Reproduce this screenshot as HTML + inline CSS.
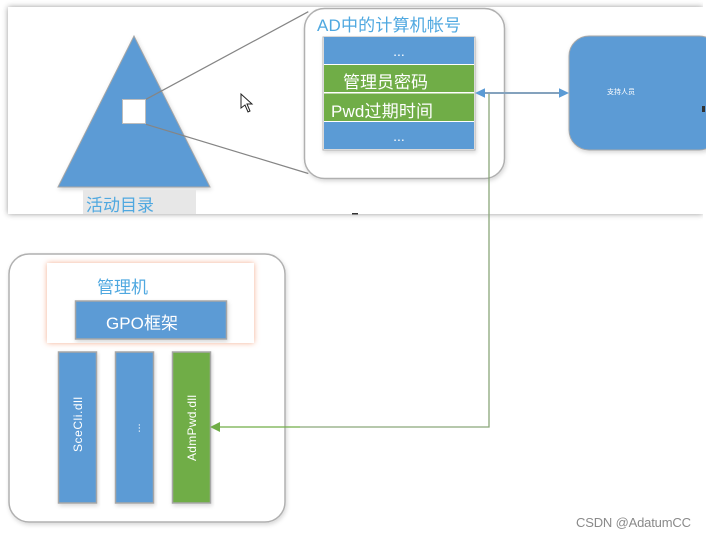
<!DOCTYPE html>
<html><head><meta charset="utf-8"><style>
html,body{margin:0;padding:0;background:#fff}
svg{display:block}
text{font-family:"Liberation Sans","Noto Sans CJK SC",sans-serif}
</style></head><body>
<svg width="706" height="537" viewBox="0 0 706 537" xmlns="http://www.w3.org/2000/svg">
<defs>
<filter id="s" x="-10%" y="-10%" width="120%" height="120%"><feDropShadow dx="1" dy="2" stdDeviation="2" flood-color="#000" flood-opacity=".16"/></filter>
<filter id="p" x="-3%" y="-5%" width="106%" height="110%"><feDropShadow dx="0" dy="0" stdDeviation="3" flood-color="#000" flood-opacity=".4"/></filter>
<filter id="o" x="-10%" y="-20%" width="120%" height="140%"><feDropShadow dx="0" dy="0" stdDeviation="3" flood-color="#f4a584" flood-opacity=".9"/></filter>
</defs>
<rect width="706" height="537" fill="#fff"/>
<rect x="8" y="7" width="695" height="207" fill="#fff" filter="url(#p)"/>
<rect x="703" y="0" width="3" height="230" fill="#fff"/>

<polygon points="134,36 58,187 210,187" fill="#5b9bd5" stroke="#a6a6a6" stroke-width="1" filter="url(#s)"/>
<rect x="122.500" y="99.500" width="23" height="24" fill="#fff" stroke="#bdbdbd" stroke-width="1"/>
<rect x="83" y="190" width="113" height="24" fill="#e7e7e7"/>
<text x="86" y="211" font-size="17" fill="#4fa8e0" textLength="68">活动目录</text>

<rect x="304.500" y="8.500" width="200" height="170" rx="20" fill="#fff" stroke="#b0b0b0" stroke-width="1.500" filter="url(#s)"/>
<line x1="146" y1="99.300" x2="308.300" y2="11.700" stroke="#858585" stroke-width="1.200"/>
<line x1="146" y1="124.300" x2="308.300" y2="173.500" stroke="#858585" stroke-width="1.200"/>
<text x="317" y="31" font-size="17" fill="#4fa8e0" textLength="144">AD中的计算机帐号</text>

<rect x="323" y="37" width="152" height="113" fill="#fff" stroke="#b5b5b5" stroke-width="1" filter="url(#s)"/>
<rect x="324" y="37" width="150" height="27" fill="#5b9bd5"/>
<rect x="324" y="65" width="150" height="27" fill="#70ad47"/>
<rect x="324" y="93.500" width="150" height="27.500" fill="#70ad47"/>
<rect x="324" y="122" width="150" height="27" fill="#5b9bd5"/>
<text x="399" y="56" font-size="14" fill="#fff" text-anchor="middle">...</text>
<text x="343" y="88" font-size="17" fill="#fff" textLength="85">管理员密码</text>
<text x="331" y="117" font-size="17" fill="#fff" textLength="102">Pwd过期时间</text>
<text x="399" y="141" font-size="14" fill="#fff" text-anchor="middle">...</text>

<rect x="569" y="36" width="150" height="114" rx="20" fill="#5b9bd5" stroke="#a9a9a9" stroke-width="1" filter="url(#s)"/>
<text x="607" y="94" font-size="7" fill="#fff" textLength="28">支持人员</text>
<rect x="702" y="106" width="3" height="6" fill="#333"/>

<rect x="352" y="213" width="6" height="1.500" fill="#333"/>

<rect x="9" y="254" width="276" height="268" rx="20" fill="#fff" stroke="#b0b0b0" stroke-width="1.500" filter="url(#s)"/>
<rect x="47" y="263" width="207" height="80" fill="#fff" filter="url(#o)"/>
<text x="97" y="293" font-size="17" fill="#4fa8e0" textLength="51">管理机</text>
<rect x="75.500" y="301" width="151" height="38" fill="#5b9bd5" stroke="#a6a6a6" stroke-width="1.500" filter="url(#s)"/>
<text x="106" y="329" font-size="17" fill="#fff" textLength="72">GPO框架</text>

<rect x="58.500" y="352" width="38" height="151" fill="#5b9bd5" stroke="#a6a6a6" stroke-width="1.500" filter="url(#s)"/>
<rect x="115.500" y="352" width="38" height="151" fill="#5b9bd5" stroke="#a6a6a6" stroke-width="1.500" filter="url(#s)"/>
<rect x="172.500" y="352" width="38" height="151" fill="#70ad47" stroke="#a6a6a6" stroke-width="1.500" filter="url(#s)"/>
<text transform="translate(82,452) rotate(-90)" font-size="12" fill="#fff" textLength="55">SceCli.dll</text>
<text transform="translate(140,428) rotate(-90)" font-size="11" fill="#fff" text-anchor="middle">...</text>
<text transform="translate(196,461) rotate(-90)" font-size="12" fill="#fff" textLength="66">AdmPwd.dll</text>

<polyline points="489,93 489,427 300,427" fill="none" stroke="#8aa67a" stroke-width="1.300"/>
<line x1="300" y1="427" x2="219" y2="427" stroke="#70ad47" stroke-width="1.200"/>
<line x1="483" y1="93" x2="561" y2="93" stroke="#84a2bd" stroke-width="2"/>
<polygon points="475,93 485,88.300 485,97.700" fill="#5b9bd5"/>
<polygon points="569,93 559,88.300 559,97.700" fill="#5b9bd5"/>
<polygon points="210,427 220,422 220,432" fill="#70ad47"/>

<text x="576" y="527" font-size="13" fill="#8a8a8a" textLength="115">CSDN @AdatumCC</text>
<polygon points="241,94 241,108 245,105 248,112 250,111 247,104 252,104" fill="#fff" stroke="#222" stroke-width="1"/>
</svg>
</body></html>
